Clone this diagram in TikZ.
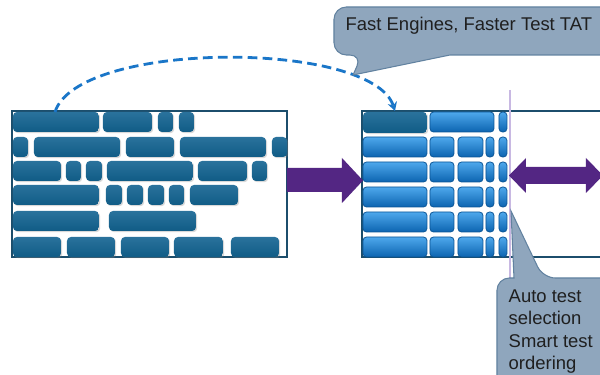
\documentclass[tikz,border=0pt]{standalone}
\usepackage{fontspec}
\setmainfont{Liberation Sans}
\usetikzlibrary{arrows.meta,shadows}

\definecolor{frameC}{RGB}{28,78,108}
\definecolor{oldTop}{RGB}{42,114,156}
\definecolor{oldBot}{RGB}{16,92,134}
\definecolor{glossTop}{RGB}{78,168,236}
\definecolor{glossMid}{RGB}{22,134,216}
\definecolor{glossBot}{RGB}{12,100,176}
\definecolor{arrowC}{RGB}{83,38,131}
\definecolor{linkC}{RGB}{26,118,200}
\definecolor{calloutC}{RGB}{143,166,189}
\definecolor{calloutEdge}{RGB}{98,130,160}
\definecolor{guideC}{RGB}{200,184,226}

\begin{document}
\begin{tikzpicture}[x=0.02cm,y=-0.02cm,line width=0.8pt,>=Stealth,
  oldbrick/.style={rounded corners=2.2pt,top color=oldTop,bottom color=oldBot,
    drop shadow={opacity=0.3,shadow xshift=0.7pt,shadow yshift=-0.7pt}},
  newbrick/.style={rounded corners=2pt,top color=glossTop,middle color=glossMid,
    bottom color=glossBot,draw=glossBot!85!black,line width=0.45pt},
  frame/.style={draw=frameC,line width=1.2pt},
  callout/.style={fill=calloutC,draw=calloutEdge,line width=0.6pt},
  tip/.style={inner sep=0pt,text=black!88,font=\fontsize{10.5}{12.75}\selectfont}]
\useasboundingbox (0,0) rectangle (600,375);
\clip (0,0) rectangle (600,375);
% 左框：旧流程，砖块长短不一
\draw[frame] (12,111) rectangle (287,257);
\foreach \ya/\yb/\row in {
  112/132/{13/99,103/152,158/173,179/194},
  137/157/{13/28,34/120,126/174,180/266,272/287},
  161/181/{13/61,66/81,86/102,107/193,198/247,252/267},
  185/205/{13/99,106/122,127/143,148/164,169/184,190/238},
  211/231/{13/99,109/196},
  237/257/{13/61,67/115,121/169,174/223,231/279}}{
  \foreach \xa/\xb in \row
    \path[oldbrick] (\xa,\ya) rectangle (\xb,\yb);
}
% 中框：规整的测试列
\draw[frame] (362,111) rectangle (640,257);
\foreach \ya/\yb in {137/157,162/182,187/207,212/232,237/257}
  \foreach \xa/\xb in {363/427,430/454,458/483,486/494,499/507}
    \path[newbrick] (\xa,\ya) rectangle (\xb,\yb);
\path[oldbrick] (363,112) rectangle (427,133);
\path[newbrick] (430,112) rectangle (494,132);
\path[newbrick] (499,112) rectangle (507,132);
% 竖直分隔线
\draw[guideC,line width=0.6pt] (510,90) -- (510,290);
% 粗箭头
\fill[arrowC] (287,168) -- (342,168) -- (342,158) -- (363,180.5)
  -- (342,203) -- (342,192) -- (287,192) -- cycle;
\fill[arrowC] (509,175.5) -- (526,158) -- (526,167) -- (586,167) -- (586,158)
  -- (603,175.5) -- (586,193) -- (586,184) -- (526,184) -- (526,193) -- cycle;
% 虚线弧
\coordinate (arcFrom) at (55,112);
\coordinate (arcTo) at (395,111);
\draw[linkC,line width=1.6pt,dash pattern=on 5.5pt off 3pt,-{Stealth[length=5pt,width=5.5pt]}]
  (arcFrom) .. controls (78,40) and (372,40) .. (arcTo);
% 标注框
\draw[callout,rounded corners=7pt] (500,7) -- (334,7) -- (334,55) -- (362,55)
  [sharp corners] -- (353,75) -- (450,55) [rounded corners=7pt] -- (640,55)
  -- (640,7) -- cycle;
\node[tip,anchor=base west] (fastTat) at (345,31) {Fast Engines, Faster Test TAT};
\draw[callout,rounded corners=7pt] (580,278) -- (543,278) [sharp corners]
  -- (511,211) -- (514,278) [rounded corners=7pt] -- (497,278) -- (497,420)
  -- (640,420) -- (640,278) -- cycle;
\node[tip,anchor=north west,align=left] (autoSel) at (508,289)
  {Auto test\\selection\\Smart test\\ordering};
\end{tikzpicture}
\end{document}
